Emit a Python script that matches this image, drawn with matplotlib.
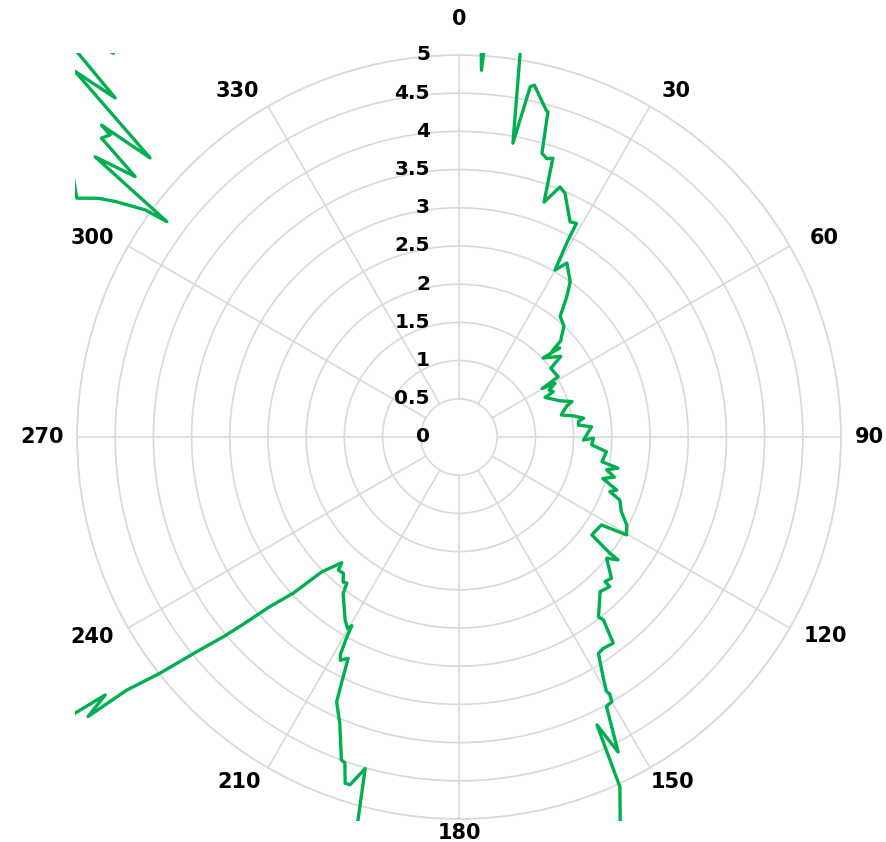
import numpy as np
import matplotlib
matplotlib.use('Agg')
import matplotlib.pyplot as plt
from matplotlib.transforms import Bbox, TransformedBbox, offset_copy

# angle (degrees, clockwise from north) and radius of each point of the trace
theta_deg = [
    0.0, 2.5, 3.5, 4.5, 8.5,
    10.4, 11.5, 12.1, 14.9, 15.3, 16.3, 17.5, 18.6, 19.9, 22.0, 23.5, 27.3, 28.8, 29.0, 29.9,
    31.8, 35.6, 37.5, 40.0, 43.4, 46.6, 47.3, 48.5, 46.8, 51.6, 53.2, 58.7, 59.8, 60.8, 62.5,
    64.3, 65.3, 70.2, 72.6, 73.9, 76.4, 77.9, 79.5, 81.4, 82.5, 84.3, 85.6, 91.4, 90.5, 93.4,
    95.7, 99.8, 101.1, 102.5, 104.5, 106.1,
    108.6, 109.9, 111.4, 114.7, 117.7, 120.3, 121.7, 126.4, 127.6, 127.7, 129.4, 132.8, 134.7,
    134.8, 137.6, 142.2, 141.7, 143.2, 145.7, 147.2, 149.0, 149.9, 149.6, 150.0, 151.3, 153.2,
    154.4, 155.3, 159.0,
    165.0, 172.0, 180.0, 188.0, 194.0,
    195.8, 197.4, 198.2, 199.3, 200.0, 202.6, 204.8, 205.8, 206.6, 208.0, 208.6, 209.3, 209.6,
    210.2, 211.9, 216.5, 217.5, 218.6, 220.3, 222.2, 223.0, 225.5, 226.7, 228.1, 229.1, 229.7,
    230.7, 231.7, 232.7, 233.0, 233.9, 234.5,
    240.0, 250.0, 260.0, 270.0, 280.0, 290.0, 298.0, 310.0,
    302.0, 303.5, 304.4, 305.9, 306.4, 307.6, 308.8, 309.9, 310.9, 311.1, 312.1, 313.6, 314.6,
    315.6, 318.0, 320.0,
    330.0, 340.0, 350.0, 358.0,
]
radius = [
    7.0, 6.5, 4.81, 6.5, 5.8,
    3.91, 4.68, 4.71, 4.43, 4.41, 3.87, 3.82, 3.85, 3.27, 3.53, 3.48, 3.17, 3.19, 2.94, 2.52,
    2.68, 2.50, 2.32, 2.06, 2.00, 1.83, 1.66, 1.76, 1.51, 1.70, 1.50, 1.52, 1.26, 1.44, 1.33,
    1.37, 1.24, 1.40, 1.55, 1.47, 1.40, 1.37, 1.52, 1.65, 1.58, 1.57, 1.74, 1.63, 1.76, 1.74,
    1.94, 1.90, 2.12, 1.98, 2.10, 1.96,
    2.18, 2.10, 2.26, 2.34, 2.48, 2.54, 2.19, 2.16, 2.49, 2.63, 2.50, 2.72, 2.69,
    2.78, 2.74, 2.98, 3.05, 3.37, 3.35, 3.37, 3.66, 3.85, 3.90, 4.00, 4.02, 4.62,
    4.18, 5.04, 5.90,
    6.8, 7.5, 7.2, 6.9, 5.84,
    4.51, 4.77, 4.77, 4.52, 4.50, 4.06, 3.82, 3.48, 3.24, 3.31, 3.24, 3.00, 2.84,
    2.90, 2.82, 2.55, 2.41, 2.43, 2.34, 2.35, 2.25, 2.52, 2.98, 3.32, 3.76, 4.04,
    4.44, 4.99, 5.47, 6.08, 5.73, 6.5,
    7.5, 8.0, 8.0, 8.0, 8.0, 7.5, 7.0, 6.8,
    5.90, 5.66, 5.46, 5.07, 4.75, 6.01, 5.44, 6.10, 6.04, 6.21, 5.45, 6.94, 6.32,
    7.63, 6.76, 7.8,
    8.0, 7.5, 7.0, 7.0,
]

r_ticks = [0, 0.5, 1, 1.5, 2, 2.5, 3, 3.5, 4, 4.5, 5]
r_labels = ['0', '0.5', '1', '1.5', '2', '2.5', '3', '3.5', '4', '4.5', '5']
angle_ticks = [0, 30, 60, 90, 120, 150, 180, 210, 240, 270, 300, 330]
angle_labels = ['0', '30', '60', '90', '120', '150', '180', '210', '240', '270', '300', '330']

grid_c = '#d9d9d9'
line_c = '#00b050'

fig = plt.figure(figsize=(8.86, 8.42), dpi=100)
ax = fig.add_axes([0.0869, 0.0273, 0.8623, 0.9074], projection='polar')
ax.set_theta_zero_location('N')
ax.set_theta_direction(-1)

# spokes start at the 0.5 ring like the original
ax.vlines(np.deg2rad(angle_ticks), 0.5, 5, colors=grid_c, lw=1.2, zorder=1)

line, = ax.plot(np.deg2rad(theta_deg), radius, color=line_c, lw=2.4,
                solid_joinstyle='round', zorder=3)
# clip to the square plot area, not the circle
line.set_clip_path(None)
line.set_clip_box(TransformedBbox(Bbox([[-0.003, -0.003], [1.003, 1.003]]), ax.transAxes))

ax.set_ylim(0, 5)
ax.set_yticks(r_ticks)
ax.set_yticklabels([])
ax.set_xticks([])
ax.tick_params(length=0)
ax.yaxis.grid(True, color=grid_c, lw=1.2)
ax.spines['polar'].set_color(grid_c)
ax.spines['polar'].set_linewidth(1.2)

lab_trans = offset_copy(ax.transData, fig=fig, x=-29, y=0, units='dots')
for v, lab in zip(r_ticks, r_labels):
    ax.text(0, v, lab, transform=lab_trans, ha='right', va='center',
            fontsize=14.5, fontweight='bold', color='black')

# pixel offsets of the angle labels from the outer ring
lab_off = {0: (0, 36), 30: (26, 15), 60: (34, 8), 90: (28, 0), 120: (36, -8),
           150: (23, -14), 180: (0, -14), 210: (-29, -14), 240: (-36, -9),
           270: (-35, 0), 300: (-36, 8), 330: (-31, 15)}
for a, lab in zip(angle_ticks, angle_labels):
    ax.annotate(lab, xy=(np.deg2rad(a), 5), xytext=lab_off[a],
                textcoords='offset pixels', ha='center', va='center',
                fontsize=15, fontweight='bold', color='black',
                annotation_clip=False)

fig.savefig('out.png', dpi=100)
